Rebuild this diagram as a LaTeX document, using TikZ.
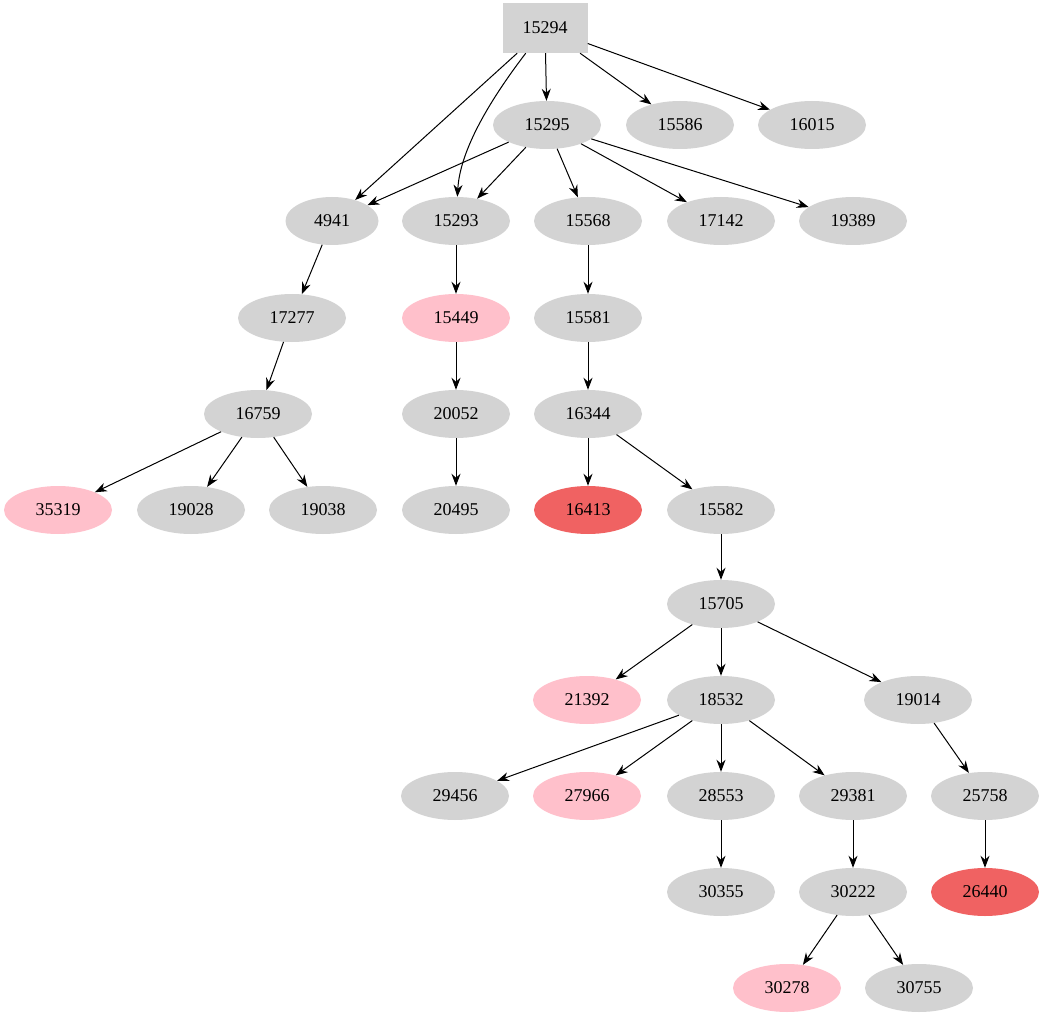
\documentclass[tikz,border=0pt]{standalone}
\usepackage{fontspec}
\setmainfont{Liberation Serif}
\usetikzlibrary{shapes.geometric,arrows.meta}
\definecolor{gr}{HTML}{D3D3D3}
\definecolor{pk}{HTML}{FFC0CB}
\definecolor{rd}{HTML}{F06262}
\begin{document}
\begin{tikzpicture}[x=1pt,y=-1pt,
 el/.style={ellipse,fill=gr,minimum width=108pt,minimum height=48pt,inner sep=0pt,font=\fontsize{18}{20}\selectfont},
 pkn/.style={el,fill=pk}, rdn/.style={el,fill=rd},
 e/.style={-{Stealth[length=12pt,width=9pt]},line width=1pt}]
\useasboundingbox (0,0) rectangle (1042,1019);
\node[rectangle,fill=gr,minimum width=85pt,minimum height=50pt,font=\fontsize{18}{20}\selectfont] (a15294) at (545,28) {15294};
\node[el] (a15295) at (547,125) {15295};
\node[el] (a15586) at (680,125) {15586};
\node[el] (a16015) at (812,125) {16015};
\node[el,minimum width=93pt] (a4941) at (332,221) {4941};
\node[el] (a15293) at (456,221) {15293};
\node[el] (a15568) at (588,221) {15568};
\node[el] (a17142) at (721,221) {17142};
\node[el] (a19389) at (853,221) {19389};
\node[el] (a17277) at (292,318) {17277};
\node[pkn] (a15449) at (456,318) {15449};
\node[el] (a15581) at (588,318) {15581};
\node[el] (a16759) at (258,414) {16759};
\node[el] (a20052) at (456,414) {20052};
\node[el] (a16344) at (588,414) {16344};
\node[pkn] (a35319) at (58,510) {35319};
\node[el] (a19028) at (191,510) {19028};
\node[el] (a19038) at (323,510) {19038};
\node[el] (a20495) at (456,510) {20495};
\node[rdn] (a16413) at (588,510) {16413};
\node[el] (a15582) at (721,510) {15582};
\node[el] (a15705) at (721,604) {15705};
\node[pkn] (a21392) at (587,700) {21392};
\node[el] (a18532) at (721,700) {18532};
\node[el] (a19014) at (918,700) {19014};
\node[el] (a29456) at (455,796) {29456};
\node[pkn] (a27966) at (587,796) {27966};
\node[el] (a28553) at (721,796) {28553};
\node[el] (a29381) at (853,796) {29381};
\node[el] (a25758) at (985,796) {25758};
\node[el] (a30355) at (721,892) {30355};
\node[el] (a30222) at (853,892) {30222};
\node[rdn] (a26440) at (985,892) {26440};
\node[pkn] (a30278) at (787,988) {30278};
\node[el] (a30755) at (919,988) {30755};
\foreach \s/\t in {15294/15295,15294/15586,15294/16015,15294/4941,15295/4941,15295/15293,15295/15568,15295/17142,15295/19389,4941/17277,17277/16759,16759/35319,16759/19028,16759/19038,15293/15449,15449/20052,20052/20495,15568/15581,15581/16344,16344/16413,16344/15582,15582/15705,15705/21392,15705/18532,15705/19014,18532/29456,18532/27966,18532/28553,18532/29381,19014/25758,25758/26440,28553/30355,29381/30222,30222/30278,30222/30755}
  \draw[e] (a\s) -- (a\t);
\draw[e] (a15294) .. controls (490,100) and (460,150) .. (a15293);
\end{tikzpicture}
\end{document}
